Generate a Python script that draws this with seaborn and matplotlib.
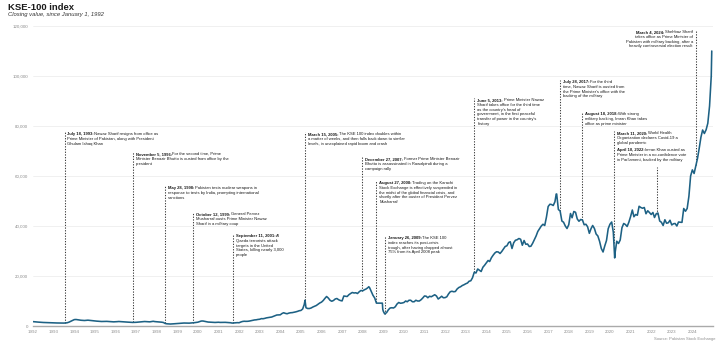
import numpy as np
import pandas as pd
import matplotlib
matplotlib.use("Agg")
import matplotlib.pyplot as plt
import matplotlib.dates as mdates
from matplotlib.transforms import IdentityTransform
from matplotlib.ticker import FuncFormatter
import seaborn as sns

# ---------------------------------------------------------------------------
# KSE-100 closing values, one reading at the start of each month, 1992-2024
# ---------------------------------------------------------------------------
monthly_close = [
    # 1992
    1750, 1700, 1620, 1560, 1500, 1450, 1410, 1380, 1350, 1320, 1300, 1280,
    # 1993
    1260, 1240, 1210, 1190, 1170, 1160, 1170, 1210, 1320, 1550, 1900, 2250,
    # 1994
    2550, 2600, 2500, 2380, 2300, 2250, 2200, 2280, 2330, 2250, 2150, 2080,
    # 1995
    2000, 1950, 1900, 1850, 1800, 1830, 1880, 1850, 1800, 1760, 1700, 1660,
    # 1996
    1680, 1740, 1800, 1760, 1710, 1660, 1610, 1560, 1510, 1460, 1430, 1440,
    # 1997
    1480, 1540, 1600, 1680, 1740, 1790, 1760, 1710, 1660, 1780, 1880, 1760,
    # 1998
    1700, 1650, 1600, 1520, 1400, 1000, 880, 820, 790, 820, 880, 930,
    # 1999
    960, 1000, 1080, 1140, 1190, 1160, 1110, 1140, 1190, 1240, 1330, 1420,
    # 2000
    1520, 1750, 1980, 2000, 1850, 1700, 1580, 1520, 1500, 1470, 1420, 1480,
    # 2001
    1500, 1430, 1440, 1490, 1460, 1410, 1360, 1310, 1170, 1220, 1290, 1340,
    # 2002
    1300, 1600, 1800, 1900, 1860, 1880, 1970, 2120, 2280, 2420, 2480, 2620,
    # 2003
    2700, 2950, 2900, 3050, 3250, 3380, 3480, 3580, 3850, 4150, 4400, 4450,
    # 2004
    4470, 5000, 5300, 5050, 4900, 5150, 5300, 5350, 5500, 5650, 5850, 6100,
    # 2005
    6220, 6800, 8600, 7300, 7000, 7000, 7200, 7600, 7900, 8200, 8700, 9200,
    # 2006
    9550, 10200, 11000, 11800, 11200, 10300, 9900, 10200, 10800, 11000, 10500, 10200,
    # 2007
    10040, 12000, 11900, 11800, 12500, 13000, 13400, 13200, 13300, 13000, 13700, 14200,
    # 2008
    14075, 14500, 14800, 15300, 15400, 13800, 12300, 11200, 9144, 9144, 9144, 9144,
    # 2009
    5865, 4900, 5400, 6500, 7200, 7300, 7200, 7700, 8800, 9400, 9100, 9200,
    # 2010
    9390, 10000, 9700, 10300, 10300, 9700, 9700, 10300, 10000, 10000, 10500, 11200,
    # 2011
    12020, 11900, 11300, 11900, 11700, 12100, 12500, 12000, 10800, 11300, 11900, 11300,
    # 2012
    11350, 11700, 12800, 13700, 13900, 13700, 13800, 14800, 15400, 15700, 16200, 16500,
    # 2013
    16900, 17200, 17900, 18100, 19300, 21500, 21200, 22800, 22300, 21800, 23500, 24300,
    # 2014
    25260, 26200, 25800, 27300, 28300, 29200, 29700, 29600, 29000, 29800, 30800, 31800,
    # 2015
    32100, 33400, 33700, 31000, 33300, 34300, 34500, 35000, 34700, 32300, 34200, 32700,
    # 2016
    32800, 31800, 31900, 33100, 34500, 36000, 37800, 38900, 40000, 40700, 40200, 43500,
    # 2017
    47800, 48700, 48600, 48200, 49700, 52800, 46600, 46000, 42000, 41500, 40000, 39000,
    # 2018
    40500, 45000, 43300, 45800, 45500, 42800, 41900, 42600, 42400, 40500, 40700, 39700,
    # 2019
    37070, 39000, 40200, 39000, 36800, 36000, 33900, 31000, 29600, 32000, 34200, 38900,
    # 2020
    40700, 41600, 37500, 29200, 33900, 33000, 34400, 39300, 41000, 40600, 39800, 41500,
    # 2021
    43750, 46400, 43700, 44600, 44300, 47900, 47400, 47100, 47400, 44900, 46100, 45400,
    # 2022
    44600, 45400, 43400, 44900, 45200, 42000, 41500, 40200, 42500, 41100, 41300, 42300,
    # 2023
    40420, 40900, 41000, 40000, 41600, 41500, 41453, 47000, 45900, 47000, 51900, 60000,
    # 2024
    62450, 61000, 64000, 67000, 71000, 75500, 78400, 77000, 78500, 81100, 88000, 100000,
]

# Individual sessions that monthly readings would miss (spikes, troughs, last close)
extra_dates = ["2005-03-15", "2008-04-18", "2008-12-15", "2008-12-22",
               "2009-01-26", "2017-05-24", "2020-03-25", "2024-12-10"]
extra_close = [10300, 15700, 9144, 6700, 4815, 52800, 27230, 110000]

# Annotated events
event_dates = ["1993-07-18", "1996-11-05", "1998-05-28", "1999-10-12", "2001-09-11",
               "2005-03-15", "2007-12-27", "2008-08-27", "2009-01-26", "2013-06-05",
               "2017-07-28", "2018-08-18", "2020-03-11", "2022-04-10", "2024-03-04"]
event_heads = ["July 18, 1993:", "November 5, 1996:", "May 28, 1998:", "October 12, 1999:",
               "September 11, 2001:", "March 15, 2005:", "December 27, 2007:",
               "August 27, 2008:", "January 26, 2009:", "June 5, 2013:", "July 28, 2017:",
               "August 18, 2018:", "March 11, 2020:", "April 10, 2022:", "March 4, 2024:"]
event_texts = [
    ["Nawaz Sharif resigns from office as", "Prime Minister of Pakistan, along with President",
     "Ghulam Ishaq Khan"],
    ["For the second time, Prime", "Minister Benazir Bhutto is ousted from office by the",
     "president"],
    ["Pakistan tests nuclear weapons in", "response to tests by India, prompting international",
     "sanctions"],
    ["General Pervez", "Musharraf ousts Prime Minister Nawaz", "Sharif in a military coup"],
    ["Al", "Qaeda terrorists attack", "targets in the United", "States, killing nearly 3,000",
     "people"],
    ["The KSE 100 index doubles within", "a matter of weeks, and then falls back down to similar",
     "levels, in unexplained rapid boom and crash"],
    ["Former Prime Minister Benazir", "Bhutto is assassinated in Rawalpindi during a",
     "campaign rally"],
    ["Trading on the Karachi", "Stock Exchange is effectively suspended in",
     "the midst of the global financial crisis, and",
     "shortly after the ouster of President Pervez", "Musharraf"],
    ["The KSE 100", "index reaches its post-crisis", "trough, after having dropped almost",
     "75% from its April 2008 peak"],
    ["Prime Minister Nawaz", "Sharif takes office for the third time", "as the country's head of",
     "government, in the first peaceful", "transfer of power in the country's", "history"],
    ["For the third", "time, Nawaz Sharif is ousted from", "the Prime Minister's office with the",
     "backing of the military"],
    ["With strong", "military backing, Imran Khan takes", "office as prime minister"],
    ["World Health", "Organization declares Covid-19 a", "global pandemic"],
    ["Imran Khan ousted as", "Prime Minister in a no-confidence vote",
     "in Parliament, backed by the military"],
    ["Shehbaz Sharif", "takes office as Prime Minister of", "Pakistan with military backing, after a",
     "heavily controversial election result"],
]

year_ticks = list(range(1992, 2025))
value_ticks = [0, 20000, 40000, 60000, 80000, 100000, 120000]

# ---------------------------------------------------------------------------
# Layout of the notes: top of each note (index value), top of each leader line,
# horizontal shift of the text from its leader (pixels) and text alignment
# ---------------------------------------------------------------------------
note_top = [77600, 69600, 56000, 45600, 36800, 77600, 67600, 58000, 36000,
            91200, 98400, 85600, 78000, 71200, 118400]
leader_top = [77600, 69600, 56000, 45600, 36800, 77600, 67600, 58000, 36000,
              91200, 98400, 85600, 78000, 63600, 118400]
note_dx = [2.5, 3, 3, 3, 3, 3, 3, 3, 3, 3, 3, 3, 3, -40, -3]
note_align = ["left"] * 14 + ["right"]

LINE_COLOR = "#1d6184"
TEXT_DARK = "#1a1a1a"
TEXT_GREY = "#8c8c8c"

# ---------------------------------------------------------------------------
month_starts = pd.date_range("1992-01-01", periods=len(monthly_close), freq="MS")
df = pd.concat([
    pd.DataFrame({"date": month_starts, "close": monthly_close}),
    pd.DataFrame({"date": pd.to_datetime(extra_dates), "close": extra_close}),
]).sort_values("date").reset_index(drop=True)

sns.set_theme(style="white")
plt.rcParams["font.family"] = ["Liberation Sans", "DejaVu Sans"]

fig = plt.figure(figsize=(7.2, 3.42), dpi=100, facecolor="white")
ax = fig.add_axes([33 / 720, 16 / 342, 680 / 720, 300 / 342])
ax.set_facecolor("white")

sns.lineplot(data=df, x="date", y="close", ax=ax, color=LINE_COLOR,
             linewidth=1.15, zorder=3)

ax.set_xlim(pd.Timestamp("1992-01-01"), pd.Timestamp("2025-01-01"))
ax.set_ylim(0, 120000)
ax.set_xlabel("")
ax.set_ylabel("")

ax.set_xticks([pd.Timestamp(f"{y}-01-01") for y in year_ticks])
ax.set_xticklabels([str(y) for y in year_ticks])
ax.set_yticks(value_ticks)
ax.yaxis.set_major_formatter(FuncFormatter(lambda v, _: f"{int(v):,}"))
ax.tick_params(axis="both", length=0, labelsize=3.2, labelcolor=TEXT_GREY)
ax.tick_params(axis="y", pad=3.5)
ax.tick_params(axis="x", pad=3.0)

ax.yaxis.grid(True, color="#eeeeee", linewidth=0.6)
ax.xaxis.grid(False)
for side in ("top", "right", "left"):
    ax.spines[side].set_visible(False)
ax.spines["bottom"].set_color("#aaaaaa")
ax.spines["bottom"].set_linewidth(1.0)

# Title, subtitle and source line
fig.text(8 / 720, 1 - 3 / 342, "KSE-100 index", fontsize=6.8, weight="bold",
         color=TEXT_DARK, ha="left", va="top")
fig.text(8 / 720, 1 - 12 / 342, "Closing value, since January 1, 1992", fontsize=4.2,
         style="italic", color="#333333", ha="left", va="top")
fig.text(716 / 720, 1 - 339 / 342, "Source: Pakistan Stock Exchange", fontsize=3.0,
         color=TEXT_GREY, ha="right", va="center")

# Leader lines and event notes
xnum = mdates.date2num(df["date"])
yval = df["close"].to_numpy(dtype=float)

fig.canvas.draw()
renderer = fig.canvas.get_renderer()
px = IdentityTransform()
NOTE_FS = 2.95
LINE_H = 4.8
HEAD_GAP = 0.4

for d, head, body, top, ltop, dx, align in zip(event_dates, event_heads, event_texts,
                                               note_top, leader_top, note_dx, note_align):
    xd = mdates.date2num(pd.Timestamp(d))
    yd = np.interp(xd, xnum, yval)
    ax.vlines(xd, yd, ltop, colors="#3c3c3c", linestyles=(0, (1.2, 1.4)),
              linewidth=0.75, zorder=2)

    x0, y0 = ax.transData.transform((xd, top))
    tx = x0 + dx
    for i, line in enumerate(body):
        yy = y0 - i * LINE_H
        if i == 0 and align == "left":
            h = fig.text(tx, yy, head, transform=px, fontsize=NOTE_FS, weight="bold",
                         color=TEXT_DARK, ha="left", va="top")
            w = h.get_window_extent(renderer).width
            fig.text(tx + w + HEAD_GAP, yy, line, transform=px, fontsize=NOTE_FS,
                     color=TEXT_DARK, ha="left", va="top")
        elif i == 0:
            b = fig.text(tx, yy, line, transform=px, fontsize=NOTE_FS,
                         color=TEXT_DARK, ha="right", va="top")
            w = b.get_window_extent(renderer).width
            fig.text(tx - w - HEAD_GAP, yy, head, transform=px, fontsize=NOTE_FS,
                     weight="bold", color=TEXT_DARK, ha="right", va="top")
        else:
            fig.text(tx, yy, line, transform=px, fontsize=NOTE_FS,
                     color=TEXT_DARK, ha=align, va="top")

fig.savefig("out.png", dpi=100, facecolor="white")
